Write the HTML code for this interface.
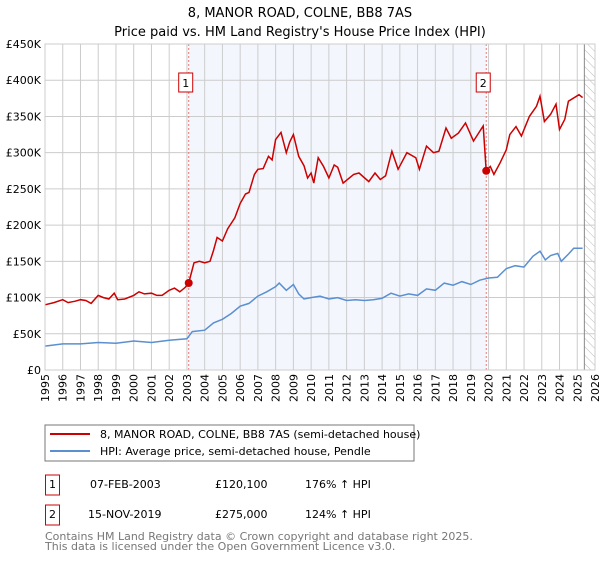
<!DOCTYPE html>
<html><head><meta charset="utf-8"><style>
body{margin:0;background:#fff;font-family:"DejaVu Sans","Liberation Sans",sans-serif;}
svg text{font-family:"DejaVu Sans","Liberation Sans",sans-serif;}
</style></head><body>
<svg id="c" width="600" height="560" xmlns="http://www.w3.org/2000/svg">
<defs><pattern id="hatch" width="6" height="6" patternUnits="userSpaceOnUse" patternTransform="rotate(-45)"><line x1="0" y1="0" x2="0" y2="6" stroke="#bbb" stroke-width="1"/></pattern></defs>
<text x="300" y="17" text-anchor="middle" font-size="13">8, MANOR ROAD, COLNE, BB8 7AS</text>
<text x="300" y="36" text-anchor="middle" font-size="13">Price paid vs. HM Land Registry's House Price Index (HPI)</text>
<g id="plot"></g>
<rect x="45" y="425" width="369" height="36" fill="#fff" stroke="#777"/>
<line x1="50" y1="434" x2="90" y2="434" stroke="#cc0000" stroke-width="2"/>
<text x="100" y="438" font-size="11">8, MANOR ROAD, COLNE, BB8 7AS (semi-detached house)</text>
<line x1="50" y1="451" x2="90" y2="451" stroke="#5b8fd0" stroke-width="2"/>
<text x="100" y="455" font-size="11">HPI: Average price, semi-detached house, Pendle</text>
<g font-size="11">
<rect x="45.5" y="475" width="14" height="20" fill="#fff" stroke="#cc0000"/>
<text x="52.5" y="488" text-anchor="middle">1</text>
<text x="90" y="488">07-FEB-2003</text>
<text x="215" y="488">£120,100</text>
<text x="305" y="488">176% ↑ HPI</text>
<rect x="45.5" y="505" width="14" height="20" fill="#fff" stroke="#cc0000"/>
<text x="52.5" y="518" text-anchor="middle">2</text>
<text x="88" y="518">15-NOV-2019</text>
<text x="215" y="518">£275,000</text>
<text x="305" y="518">124% ↑ HPI</text>
</g>
<text x="45" y="540" font-size="11" fill="#777">Contains HM Land Registry data © Crown copyright and database right 2025.</text>
<text x="45" y="550" font-size="11" fill="#777">This data is licensed under the Open Government Licence v3.0.</text>
</svg>
<script>
const yearTicks=[1995,1996,1997,1998,1999,2000,2001,2002,2003,2004,2005,2006,2007,2008,2009,2010,2011,2012,2013,2014,2015,2016,2017,2018,2019,2020,2021,2022,2023,2024,2025,2026];
const priceTicks=[0,50,100,150,200,250,300,350,400,450];
const priceLabels=["£0","£50K","£100K","£150K","£200K","£250K","£300K","£350K","£400K","£450K"];
const redT=[1995,1995.5,1996,1996.3,1996.7,1997,1997.3,1997.6,1998,1998.3,1998.6,1998.9,1999.1,1999.5,2000,2000.3,2000.6,2001,2001.3,2001.6,2002,2002.3,2002.6,2002.9,2003.1,2003.4,2003.7,2004,2004.3,2004.5,2004.7,2005,2005.3,2005.7,2006,2006.3,2006.5,2006.8,2007,2007.3,2007.6,2007.8,2008,2008.3,2008.6,2008.8,2009,2009.3,2009.6,2009.8,2010,2010.15,2010.4,2010.7,2011,2011.3,2011.5,2011.8,2012.4,2012.7,2013.25,2013.6,2013.9,2014.2,2014.55,2014.9,2015.4,2015.9,2016.1,2016.5,2016.9,2017.2,2017.6,2017.9,2018.3,2018.7,2019.15,2019.7,2019.87,2020.1,2020.3,2020.65,2021,2021.2,2021.55,2021.85,2022.3,2022.7,2022.9,2023.15,2023.5,2023.8,2024,2024.3,2024.5,2025.1,2025.3];
const redV=[90,93,97,93,95,97,96,92,103,100,98,106,97,98,103,108,105,106,103,103,110,113,108,114,120,148,150,148,150,165,183,178,195,210,230,243,245,270,277,278,295,290,318,328,300,315,325,295,282,265,272,258,293,281,265,283,280,258,270,272,260,272,263,268,302,277,300,293,277,309,300,302,334,320,327,341,316,337,275,281,270,286,304,325,336,323,350,364,378,343,353,367,332,346,371,380,376];
const blueT=[1995,1996,1997,1998,1999,2000,2001,2002,2003,2003.3,2004,2004.5,2005,2005.5,2006,2006.5,2007,2007.5,2008,2008.2,2008.6,2009,2009.3,2009.6,2010,2010.5,2011,2011.5,2012,2012.5,2013,2013.5,2014,2014.5,2015,2015.5,2016,2016.5,2017,2017.5,2018,2018.5,2019,2019.5,2020,2020.5,2021,2021.5,2022,2022.5,2022.9,2023.2,2023.5,2023.9,2024.1,2024.5,2024.8,2025.3];
const blueV=[33,36,36,38,37,40,38,41,43,53,55,65,70,78,88,92,102,108,115,120,110,118,105,98,100,102,98,100,96,97,96,97,99,106,102,105,103,112,110,120,117,122,118,124,127,128,140,144,142,157,164,152,158,161,150,160,168,168];
const saleT=[2003.1,2019.87];
const saleV=[120.1,275];
const saleLabels=["1","2"];
const L=45,R=595,T=44,B=370;
const x=t=>L+(t-1995)/(2026-1995)*(R-L);
const y=v=>B-v/450*(B-T);
const NS="http://www.w3.org/2000/svg";
const g=document.getElementById('plot');
function mk(tag,at){const e=document.createElementNS(NS,tag);for(const k in at)e.setAttribute(k,at[k]);g.appendChild(e);return e;}
let e=mk('rect',{x:x(saleT[0]),y:T,width:x(saleT[1])-x(saleT[0]),height:B-T,fill:'#eef3fc',opacity:0.7});


e=mk('rect',{x:x(2025.4),y:T,width:R-x(2025.4),height:B-T,fill:'url(#hatch)'});


priceTicks.forEach((v,i)=>{
 e=mk('line',{x1:L,x2:R,y1:y(v),y2:y(v),stroke:'#ccc','stroke-width':1});
 
 
 e=mk('text',{x:L-4,y:y(v)+4,'text-anchor':'end','font-size':11});
 e.textContent=priceLabels[i];
 
 
});
yearTicks.forEach(t=>{
 e=mk('line',{x1:x(t),x2:x(t),y1:T,y2:B,stroke:'#ccc','stroke-width':1});
 
 
 e=mk('text',{x:0,y:0,'text-anchor':'end','font-size':11,transform:`translate(${x(t)+4},${B+4}) rotate(-90)`});
 e.textContent=t;
 
 
});
e=mk('line',{x1:x(2025.4),x2:x(2025.4),y1:T,y2:B,stroke:'#888','stroke-width':1});


saleT.forEach((t,i)=>{
 e=mk('line',{x1:x(t),x2:x(t),y1:T,y2:B,stroke:'#e77','stroke-width':1,'stroke-dasharray':'2,2'});
 
 
});
e=mk('path',{d:blueT.map((t,i)=>(i?'L':'M')+x(t).toFixed(1)+','+y(blueV[i]).toFixed(1)).join(''),fill:'none',stroke:'#5b8fd0','stroke-width':1.5});


e=mk('path',{d:redT.map((t,i)=>(i?'L':'M')+x(t).toFixed(1)+','+y(redV[i]).toFixed(1)).join(''),fill:'none',stroke:'#cc0000','stroke-width':1.5});


saleT.forEach((t,i)=>{
 e=mk('circle',{cx:x(t),cy:y(saleV[i]),r:4,fill:'#cc0000'});
 
 
 e=mk('rect',{x:x(t)-10,y:73,width:14,height:19,fill:'#fff',stroke:'#cc0000'});
 
 
 e=mk('text',{x:x(t)-3,y:87,'text-anchor':'middle','font-size':11});
 e.textContent=saleLabels[i];
 
 
});
e=mk('rect',{x:L,y:T,width:R-L,height:B-T,fill:'none',stroke:'#ccc'});


</script>
</body></html>
